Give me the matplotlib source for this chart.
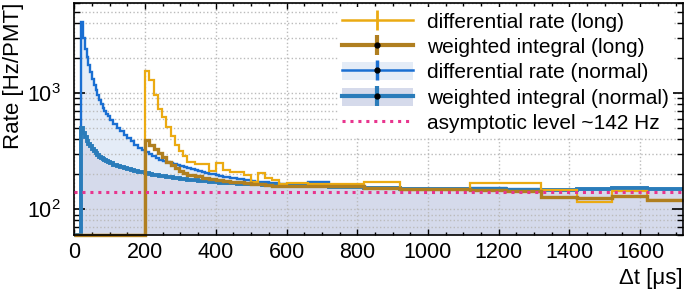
import numpy as np
import matplotlib
matplotlib.use('Agg')
import matplotlib.pyplot as plt
from matplotlib.lines import Line2D
from matplotlib.patches import Patch
from matplotlib.ticker import MultipleLocator, LogLocator, NullFormatter

plt.rcParams['font.family'] = ['Liberation Sans', 'DejaVu Sans']
plt.rcParams['mathtext.fontset'] = 'custom'
plt.rcParams['mathtext.rm'] = 'Liberation Sans'
plt.rcParams['mathtext.it'] = 'Liberation Sans:italic'
plt.rcParams['mathtext.bf'] = 'Liberation Sans:bold'

# ---------------- data ----------------
# bin edges (µs)
normal_edges = np.concatenate([[0], np.arange(20, 100, 5), np.arange(100, 600, 10),
                               [600, 660], np.arange(720, 1721, 100)])
long_edges = np.concatenate([[0], np.arange(200, 320, 12), np.arange(320, 600, 20),
                             [600, 660], np.arange(720, 1721, 100)])

normal_diff = [0,
    4100, 3000, 2400, 2050, 1750, 1520, 1330, 1180, 1060, 960, 880, 810, 750, 700, 665, 630,
    590, 540, 505, 470, 440, 410, 385, 360, 340, 322,
    308, 296, 285, 276, 268, 262, 256, 251, 246, 241,
    236, 231, 226, 220, 216, 213, 210, 207, 203, 200,
    197, 194, 191, 189, 187, 185, 183, 181, 179, 177,
    175, 173, 172, 171, 170, 169, 168, 167, 166, 165,
    166, 170,
    158, 152, 150, 148, 152, 150, 147, 149, 153, 148]

normal_int = [0,
    500, 455, 420, 390, 368, 348, 330, 315, 303, 292, 283, 276, 270, 264, 259, 254,
    248, 242, 236, 231, 226, 222, 218, 214, 211, 208,
    205, 202, 199, 197, 195, 193, 191, 189, 187, 185,
    183, 181.5, 180, 178.5, 177, 175.5, 174.5, 173.5, 172.5, 171.5,
    170.5, 169.5, 168.5, 168, 167.5, 167, 166.5, 166, 165.5, 165,
    164.5, 164, 163.5, 163, 162.5, 162, 161.5, 161, 160.5, 160,
    159, 157,
    154, 151, 149, 148, 148, 147, 146, 149, 151, 148]

long_diff = [0,
    1535, 1300, 970, 730, 620, 515, 425, 360, 315, 285,
    257, 246, 246, 215, 252, 218, 211, 211, 198, 173, 204, 187, 180, 165,
    168, 165,
    166, 170, 146, 145, 168, 169, 145, 116, 143, 120]

long_int = [0,
    395, 358, 330, 304, 280, 257, 240, 226, 214, 204,
    198, 192, 186, 182, 179, 176, 173, 170, 168, 166, 164, 162, 160, 159,
    160, 160,
    157, 152, 148, 148, 147, 144, 128, 126, 131, 120]

asymptote = 142

labels = ['differential rate (long)', 'weighted integral (long)',
          'differential rate (normal)', 'weighted integral (normal)',
          'asymptotic level ~142 Hz']

# ---------------- style ----------------
YEL = '#ebaa12'
GOLD = '#b07f20'
BLUE = '#1a6fd2'
BLUE2 = '#2a7cba'
LBLUE = '#e4ecf7'
LAV = '#d5daeb'
PINK = '#e8358e'
YMIN, YMAX = 60, 6000
XMIN, XMAX = 0, 1720

fig = plt.figure(figsize=(6.85, 2.94), dpi=100)
ax = fig.add_axes([0.1085, 0.2007, 0.888, 0.790])
ax.set_yscale('log')

def shown(v):
    return np.maximum(np.asarray(v, dtype=float), YMIN)

ax.stairs(shown(normal_diff), normal_edges, baseline=YMIN, fill=True, color=LBLUE, zorder=1)
ax.stairs(shown(normal_int), normal_edges, baseline=YMIN, fill=True, color=LAV, zorder=1.1)
ax.stairs(shown(normal_diff), normal_edges, baseline=None, color=BLUE, lw=1.7, zorder=2, clip_on=False)
ax.stairs(shown(normal_int), normal_edges, baseline=None, color=BLUE2, lw=2.8, zorder=2.1, clip_on=False)
ax.stairs(shown(long_diff), long_edges, baseline=None, color=YEL, lw=1.6, zorder=2.2, clip_on=False)
ax.stairs(shown(long_int), long_edges, baseline=None, color=GOLD, lw=2.4, zorder=2.3, clip_on=False)
ax.axhline(asymptote, color=PINK, lw=2.2, ls=(0, (1, 1.6)), zorder=3)

ax.set_xlim(XMIN, XMAX)
ax.set_ylim(YMIN, YMAX)

ax.xaxis.set_major_locator(MultipleLocator(200))
ax.xaxis.set_minor_locator(MultipleLocator(50))
ax.yaxis.set_minor_locator(LogLocator(base=10, subs=np.arange(2, 10)))
ax.yaxis.set_minor_formatter(NullFormatter())

ax.tick_params(which='both', direction='in', top=True, right=True, labelsize=15.5)
ax.tick_params(axis='y', which='major', length=8, width=1.2, pad=10)
ax.tick_params(axis='y', which='minor', length=4.5, width=1)
ax.tick_params(axis='x', which='major', length=4.5, width=1, pad=5)
ax.tick_params(axis='x', which='minor', length=2.5, width=1)
for s in ax.spines.values():
    s.set_linewidth(1.2)

ax.grid(True, which='major', axis='x', ls=':', color='#bbbbbb', lw=1)
ax.grid(True, which='both', axis='y', ls=':', color='#bbbbbb', lw=1)

ax.set_ylabel('Rate [Hz/PMT]', fontsize=16, loc='top', labelpad=2)
ax.set_xlabel('\u0394t [\u03bcs]', fontsize=16, loc='right', labelpad=4)

dot = Line2D([], [], ls='none', marker='o', ms=3.5, color='k')
handles = [
    Line2D([], [], color=YEL, lw=1.8, marker='|', ms=15, mew=2),
    (Line2D([], [], color=GOLD, lw=3, marker='|', ms=15, mew=3), dot),
    (Patch(facecolor=LBLUE, edgecolor='none'),
     Line2D([], [], color=BLUE, lw=1.8, marker='|', ms=15, mew=2.5), dot),
    (Patch(facecolor=LAV, edgecolor='none'),
     Line2D([], [], color=BLUE2, lw=3, marker='|', ms=15, mew=3), dot),
    Line2D([], [], color=PINK, lw=2.2, ls=(0, (1, 1.6))),
]
ax.legend(handles, labels, loc='upper right', bbox_to_anchor=(0.985, 0.98),
          borderaxespad=0, borderpad=0.2, fontsize=15.0, handlelength=3.4,
          handleheight=0.95, handletextpad=0.7, labelspacing=0.25,
          frameon=True, fancybox=False, edgecolor='none', facecolor='white',
          framealpha=1)

fig.savefig('out.png', dpi=100)
